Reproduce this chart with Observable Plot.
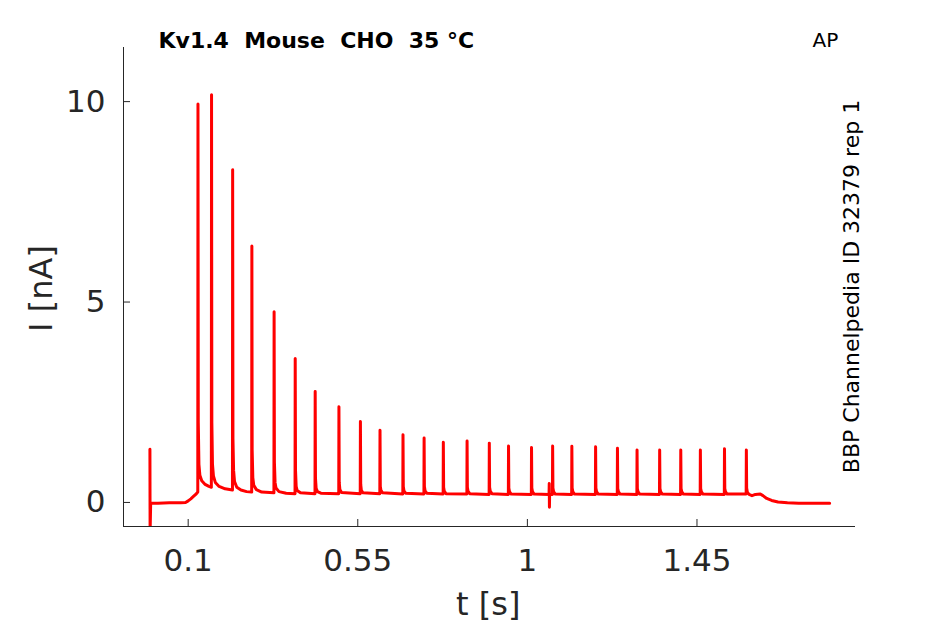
<!DOCTYPE html>
<html><head><meta charset="utf-8">
<script src="https://cdn.jsdelivr.net/npm/d3@7"></script>
<script src="https://cdn.jsdelivr.net/npm/@observablehq/plot@0.6"></script>
<style>html,body{margin:0;padding:0;background:#fff;} #chart svg{display:block;}</style>
</head><body><div id="chart"></div>
<script>
const xTicks = [0.1, 0.55, 1, 1.45];
const yTicks = [0, 5, 10];
const xDomain = [-0.0716, 1.8706];
const yDomain = [-0.6, 11.35];
const title = "Kv1.4  Mouse  CHO  35 °C";
const protocol = "AP";
const sideNote = "BBP Channelpedia ID 32379 rep 1";
const xLabel = "t [s]";
const yLabel = "I [nA]";

const trace = [
  [-0.0015, 1.33], [-0.001, -0.75], [0.0005, -0.02],
  [0.02, -0.02], [0.05, -0.01], [0.08, -0.01], [0.093, 0.0], [0.100, 0.04], [0.107, 0.09], [0.114, 0.15], [0.120, 0.2], [0.1255, 0.26],
  [0.126, 9.94], [0.1268, 2.0], [0.1285, 0.95], [0.131, 0.68], [0.136, 0.54], [0.145, 0.45], [0.155, 0.4], [0.1615, 0.38],
  [0.162, 10.17], [0.1628, 2.0], [0.1645, 0.95], [0.167, 0.66], [0.172, 0.5], [0.182, 0.4], [0.198, 0.34], [0.2175, 0.31],
  [0.218, 8.30], [0.2188, 1.6], [0.2205, 0.8], [0.223, 0.52], [0.229, 0.38], [0.24, 0.31], [0.255, 0.27], [0.2685, 0.26],
  [0.269, 6.40], [0.2698, 1.3], [0.2715, 0.62], [0.274, 0.43], [0.281, 0.32], [0.295, 0.26], [0.3275, 0.24],
  [0.328, 4.76], [0.3288, 1.0], [0.3305, 0.5], [0.333, 0.36], [0.341, 0.27], [0.36, 0.23], [0.3835, 0.22],
  [0.384, 3.59], [0.3848, 0.8], [0.3865, 0.4], [0.389, 0.3], [0.398, 0.24], [0.4365, 0.22],
  [0.437, 2.77], [0.4378, 0.6], [0.4395, 0.35], [0.443, 0.27], [0.452, 0.23], [0.4995, 0.22],
  [0.500, 2.39], [0.5008, 0.5], [0.5025, 0.32], [0.507, 0.25], [0.5565, 0.22],
  [0.557, 2.02], [0.5578, 0.45], [0.5595, 0.3], [0.564, 0.24], [0.6085, 0.22],
  [0.609, 1.80], [0.6098, 0.4], [0.6115, 0.3], [0.616, 0.24], [0.6695, 0.21],
  [0.670, 1.69], [0.6708, 0.4], [0.6725, 0.29], [0.677, 0.23], [0.7255, 0.21],
  [0.726, 1.61], [0.7268, 0.4], [0.7285, 0.29], [0.733, 0.23], [0.7765, 0.21],
  [0.777, 1.50], [0.7778, 0.38], [0.7795, 0.28], [0.784, 0.22], [0.8395, 0.21],
  [0.840, 1.53], [0.8408, 0.38], [0.8425, 0.28], [0.847, 0.22], [0.8985, 0.2],
  [0.899, 1.48], [0.8998, 0.38], [0.9015, 0.28], [0.906, 0.22], [0.9495, 0.2],
  [0.950, 1.41], [0.9508, 0.36], [0.9525, 0.27], [0.957, 0.21], [1.0105, 0.2],
  [1.011, 1.37], [1.0118, 0.36], [1.0135, 0.27], [1.018, 0.21], [1.0575, 0.2], [1.058, 0.47], [1.0585, -0.12], [1.059, 0.2], [1.0665, 0.2],
  [1.067, 1.41], [1.0678, 0.36], [1.0695, 0.27], [1.074, 0.21], [1.1175, 0.2],
  [1.118, 1.40], [1.1188, 0.36], [1.1205, 0.27], [1.125, 0.21], [1.1805, 0.2],
  [1.181, 1.39], [1.1818, 0.36], [1.1835, 0.27], [1.188, 0.21], [1.2385, 0.2],
  [1.239, 1.35], [1.2398, 0.35], [1.2415, 0.27], [1.246, 0.21], [1.2905, 0.2],
  [1.291, 1.31], [1.2918, 0.35], [1.2935, 0.27], [1.298, 0.21], [1.3505, 0.2],
  [1.351, 1.31], [1.3518, 0.35], [1.3535, 0.27], [1.358, 0.21], [1.4065, 0.2],
  [1.407, 1.31], [1.4078, 0.35], [1.4095, 0.27], [1.414, 0.21], [1.4585, 0.2],
  [1.459, 1.31], [1.4598, 0.35], [1.4615, 0.27], [1.466, 0.21], [1.5225, 0.2],
  [1.523, 1.34], [1.5238, 0.35], [1.5255, 0.27], [1.530, 0.21], [1.5805, 0.21],
  [1.581, 1.31], [1.5818, 0.36], [1.5835, 0.26], [1.588, 0.2], [1.596, 0.17], [1.605, 0.2], [1.618, 0.21], [1.625, 0.17],
  [1.635, 0.1], [1.648, 0.05], [1.665, 0.01], [1.69, -0.01], [1.72, -0.02], [1.76, -0.02], [1.802, -0.02]
];

const ink = "#262626";
const fmt = d => String(d);

const chart = Plot.plot({
  width: 945,
  height: 624,
  marginLeft: 123,
  marginRight: 90,
  marginTop: 47,
  marginBottom: 98,
  style: {fontFamily: "DejaVu Sans", background: "white", color: ink, overflow: "visible"},
  x: {domain: xDomain, label: null},
  y: {domain: yDomain, label: null},
  marks: [
    Plot.line(trace, {x: d => d[0], y: d => d[1], stroke: "#ff0000", strokeWidth: 3, clip: true}),
    Plot.ruleX([xDomain[0]], {stroke: ink, strokeWidth: 1}),
    Plot.ruleY([yDomain[0]], {stroke: ink, strokeWidth: 1}),
    Plot.axisX(xTicks, {tickSize: -7, tickPadding: 29, fontSize: 31, tickFormat: fmt, stroke: ink, fill: ink}),
    Plot.axisY(yTicks, {tickSize: -7, tickPadding: 25, fontSize: 31, tickFormat: fmt, stroke: ink, fill: ink}),
    Plot.text([title], {text: d => d, frameAnchor: "top-left", dx: 35, dy: 0, textAnchor: "start", lineAnchor: "bottom", fontSize: 22, fontWeight: "bold", fill: "black"}),
    Plot.text([protocol], {text: d => d, frameAnchor: "top-right", dx: -43, dy: -1, textAnchor: "start", lineAnchor: "bottom", fontSize: 20, fill: "black"}),
    Plot.text([sideNote], {text: d => d, frameAnchor: "right", dx: 3, dy: -0.5, rotate: -90, textAnchor: "middle", lineAnchor: "bottom", fontSize: 22, fill: "black"}),
    Plot.text([yLabel], {text: d => d, frameAnchor: "left", dx: -72, dy: 1.5, rotate: -90, textAnchor: "middle", lineAnchor: "bottom", fontSize: 32, fill: ink}),
    Plot.text([xLabel], {text: d => d, frameAnchor: "bottom", dx: -1.3, dy: 88, textAnchor: "middle", lineAnchor: "bottom", fontSize: 32, fill: ink})
  ]
});
document.getElementById("chart").appendChild(chart);
</script>
</body></html>
